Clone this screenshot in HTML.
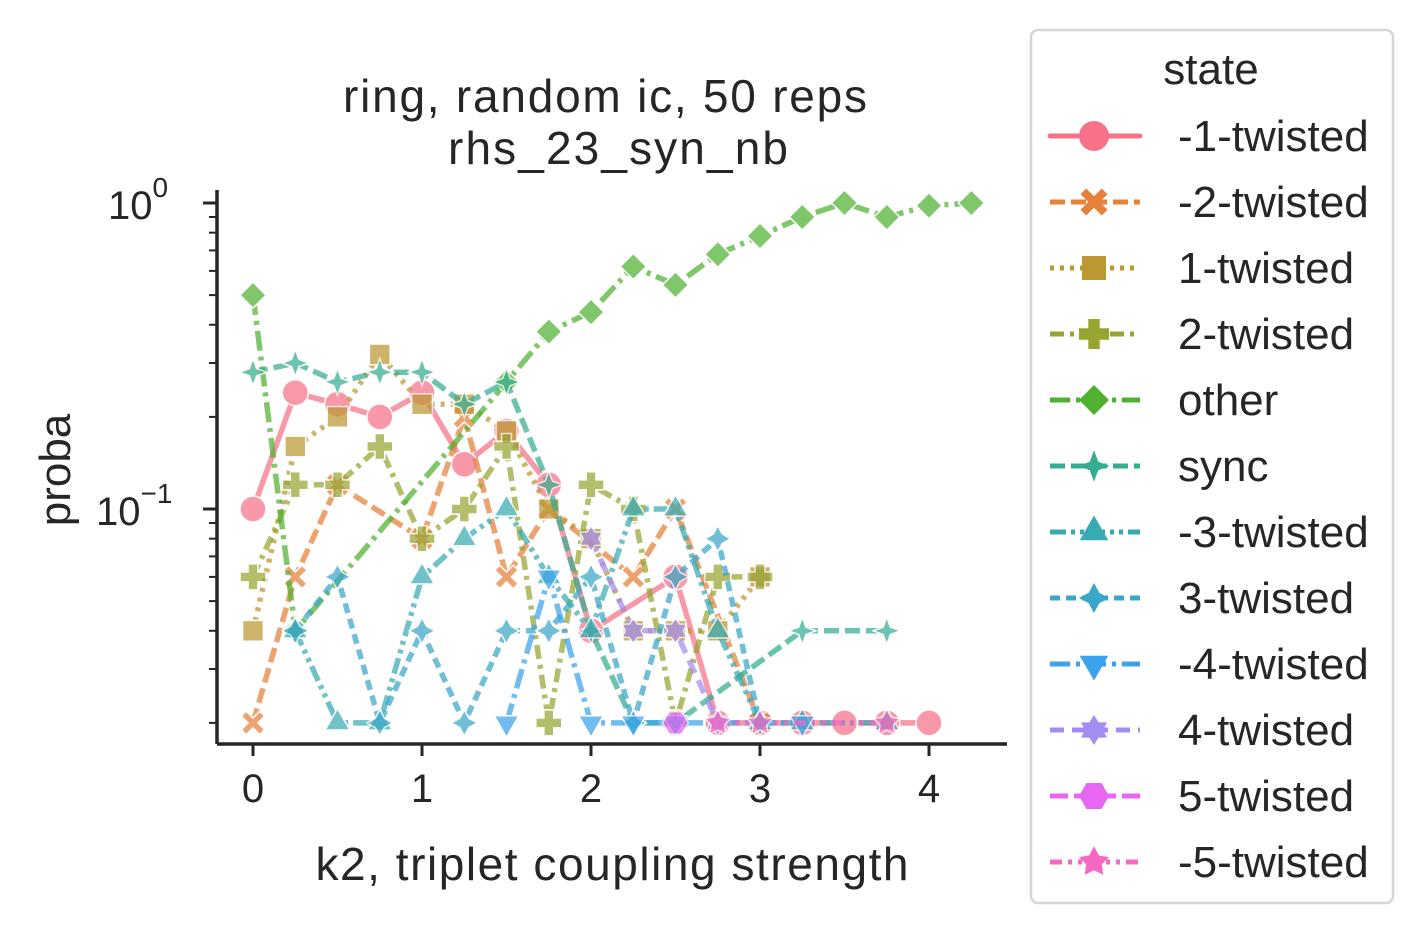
<!DOCTYPE html>
<html><head><meta charset="utf-8"><style>
body{margin:0;background:#fff;}
svg{display:block;font-family:"Liberation Sans",Arial,sans-serif;}
</style></head><body>
<svg id="chart" width="1423" height="934" viewBox="0 0 1423 934">
<text x="605" y="112" font-size="46" text-anchor="middle" fill="#262626" textLength="524">ring, random ic, 50 reps</text>
<text x="618" y="164" font-size="46" text-anchor="middle" fill="#262626" textLength="340">rhs_23_syn_nb</text>
<text x="612" y="880" font-size="46" text-anchor="middle" fill="#262626" textLength="593">k2, triplet coupling strength</text>
<text transform="translate(70,470) rotate(-90)" font-size="44" text-anchor="middle" fill="#262626">proba</text>
<g id="axes"></g>
<g id="series"></g>
<g id="legend"></g>
</svg>
<script>
const names=["-1-twisted","-2-twisted","1-twisted","2-twisted","other","sync","-3-twisted","3-twisted","-4-twisted","4-twisted","5-twisted","-5-twisted"];
const colors=["#f77189","#e58139","#bb9832","#97a431","#50b131","#34ae91","#37abb4","#3aa6c8","#3ba3ec","#a48cf4","#e866f4","#f668c2"];
const xTicks=[0,1,2,3,4];
const s0x=[0,0.25,0.5,0.75,1,1.25,1.5,1.75,2,2.5,2.75,3,3.25,3.5,3.75,4];
const s0y=[0.10,0.24,0.22,0.20,0.24,0.14,0.18,0.12,0.04,0.06,0.02,0.02,0.02,0.02,0.02,0.02];
const s1x=[0,0.25,0.5,1,1.25,1.5,1.75,2.25,2.5,3];
const s1y=[0.02,0.06,0.12,0.08,0.20,0.06,0.10,0.06,0.10,0.02];
const s2x=[0,0.25,0.5,0.75,1,1.25,1.5,1.75,2,2.25,2.5,2.75,3];
const s2y=[0.04,0.16,0.20,0.32,0.22,0.22,0.18,0.10,0.08,0.04,0.04,0.04,0.06];
const s3x=[0,0.25,0.5,0.75,1,1.25,1.5,1.75,2,2.25,2.5,2.75,3];
const s3y=[0.06,0.12,0.12,0.16,0.08,0.10,0.16,0.02,0.12,0.10,0.02,0.06,0.06];
const s4x=[0,0.25,1.5,1.75,2,2.25,2.5,2.75,3,3.25,3.5,3.75,4,4.25];
const s4y=[0.50,0.04,0.26,0.38,0.44,0.62,0.54,0.68,0.78,0.90,1.00,0.90,0.98,1.00];
const s5x=[0,0.25,0.5,0.75,1,1.25,1.5,1.75,2,2.25,2.5,3.25,3.75];
const s5y=[0.28,0.30,0.26,0.28,0.28,0.22,0.26,0.12,0.04,0.02,0.02,0.04,0.04];
const s6x=[0.25,0.5,0.75,1,1.25,1.5,1.75,2,2.25,2.5,2.75,3,3.25,3.75];
const s6y=[0.04,0.02,0.02,0.06,0.08,0.10,0.06,0.04,0.10,0.10,0.04,0.02,0.02,0.02];
const s7x=[0.25,0.5,0.75,1,1.25,1.5,1.75,2,2.25,2.5,2.75,3];
const s7y=[0.04,0.06,0.02,0.04,0.02,0.04,0.04,0.06,0.02,0.06,0.08,0.02];
const s8x=[1.5,1.75,2,2.25,2.5,3.25];
const s8y=[0.02,0.06,0.02,0.02,0.02,0.02];
const s9x=[2,2.25,2.5,2.75];
const s9y=[0.08,0.04,0.04,0.02];
const s10x=[2.5];
const s10y=[0.02];
const s11x=[2.75,3,3.75];
const s11y=[0.02,0.02,0.02];
const SX=[s0x,s1x,s2x,s3x,s4x,s5x,s6x,s7x,s8x,s9x,s10x,s11x];
const SY=[s0y,s1y,s2y,s3y,s4y,s5y,s6y,s7y,s8y,s9y,s10y,s11y];
const dashes=["","15,6","4,6","14,6,4,6","20,6,4,6","15,6","16,5,4,5,4,5","10,6","20,6,4,6","14,8","18,6","12,6,4,6,4,6"];
const xs=v=>253+v*169;
const ys=v=>203-Math.log10(v)*306;
const NS="http://www.w3.org/2000/svg";
function mk(t,a,p){const e=document.createElementNS(NS,t);for(const k in a)e.setAttribute(k,a[k]);p.appendChild(e);return e;}
function star(n,ro,ri){let d="";for(let i=0;i<2*n;i++){const r=i%2?ri:ro;const a=-Math.PI/2+i*Math.PI/n;d+=(i?"L":"M")+(r*Math.cos(a)).toFixed(2)+","+(r*Math.sin(a)).toFixed(2);}return d+"Z";}
function poly(n,r,off){let d="";for(let i=0;i<n;i++){const a=off+i*2*Math.PI/n;d+=(i?"L":"M")+(r*Math.cos(a)).toFixed(2)+","+(r*Math.sin(a)).toFixed(2);}return d+"Z";}
function shape(i,s){
 const r=s;
 switch(i){
  case 0:return "M"+(-r)+",0A"+r+","+r+" 0 1,0 "+r+",0A"+r+","+r+" 0 1,0 "+(-r)+",0Z";
  case 1:{const a=r*0.9,b=r*0.38;return `M${-a},${-a+b}L${-a+b},${-a}L0,${-b}L${a-b},${-a}L${a},${-a+b}L${b},0L${a},${a-b}L${a-b},${a}L0,${b}L${-a+b},${a}L${-a},${a-b}L${-b},0Z`;}
  case 2:{const a=r*0.8;return `M${-a},${-a}H${a}V${a}H${-a}Z`;}
  case 3:{const a=r,b=r*0.38;return `M${-b},${-a}H${b}V${-b}H${a}V${b}H${b}V${a}H${-b}V${b}H${-a}V${-b}H${-b}Z`;}
  case 4:return `M0,${-r}L${r},0L0,${r}L${-r},0Z`;
  case 5:return star(4,r*1.05,r*0.4);
  case 6:return poly(3,r*1.1,-Math.PI/2);
  case 7:{const d=star(4,r,r*0.5);return d;}
  case 8:return poly(3,r*1.1,Math.PI/2);
  case 9:return star(6,r,r*0.6);
  case 10:return poly(6,r,0);
  case 11:return star(5,r*1.05,r*0.55);
 }
}
const ax=document.getElementById("axes");
let e=mk("line",{x1:217,y1:190,x2:217,y2:744,stroke:"#262626","stroke-width":3.5},ax);


e=mk("line",{x1:217,y1:744,x2:1007,y2:744,stroke:"#262626","stroke-width":3.5},ax);


xTicks.forEach(t=>{
 const x=xs(t);
 mk("line",{x1:x,y1:744,x2:x,y2:756,stroke:"#262626","stroke-width":3},ax);
 const tx=mk("text",{x:x,y:802,"font-size":40,"text-anchor":"middle",fill:"#262626"},ax);
 tx.textContent=t;
 
 
});
[[1,"0"],[0.1,"−1"]].forEach(([v,ex])=>{
 const y=ys(v);
 mk("line",{x1:203,y1:y,x2:217,y2:y,stroke:"#262626","stroke-width":3},ax);
 const tx=mk("text",{x:(ex==="0"?108:96),y:y+16,"font-size":40,fill:"#262626"},ax);
 tx.innerHTML='10<tspan dy="-22" font-size="28">'+ex+'</tspan>';
 
 
});
for(const base of [0.01,0.1]){for(let k=2;k<=9;k++){const v=base*k;const y=ys(v);if(y<190||y>744)continue;mk("line",{x1:209,y1:y,x2:217,y2:y,stroke:"#262626","stroke-width":2},ax);}}
const sg=document.getElementById("series");
names.forEach((n,i)=>{
 const g=mk("g",{opacity:0.72},sg);
 
 
 const pts=SX[i].map((x,j)=>xs(x).toFixed(1)+","+ys(SY[i][j]).toFixed(1)).join(" ");
 const pl=mk("polyline",{points:pts,fill:"none",stroke:colors[i],"stroke-width":5.5,"stroke-dasharray":dashes[i],"stroke-linejoin":"round"},g);
 
 
 SX[i].forEach((x,j)=>{
  const p=mk("path",{d:shape(i,13),transform:`translate(${xs(x).toFixed(1)},${ys(SY[i][j]).toFixed(1)})`,fill:colors[i],stroke:"#fff","stroke-width":1.5},g);
  
  
 });
});
const lg=document.getElementById("legend");
const box=mk("rect",{x:1031,y:30,width:362,height:873,rx:7,fill:"#fff",stroke:"#d6d6d6","stroke-width":2.5},lg);


const lt=mk("text",{x:1211,y:84,"font-size":44,"text-anchor":"middle",fill:"#262626"},lg);
lt.textContent="state";


names.forEach((n,i)=>{
 const y=136+i*66;
 const g=mk("g",{},lg);
 
 
 mk("line",{x1:1050,y1:y,x2:1140,y2:y,stroke:colors[i],"stroke-width":5,"stroke-dasharray":dashes[i],"stroke-linecap":i===0?"round":"butt"},g);
 mk("path",{d:shape(i,15),transform:`translate(1094,${y})`,fill:colors[i]},g);
 const t=mk("text",{x:1178,y:y+15,"font-size":44,fill:"#262626"},g);
 t.textContent=n;
});
</script>
</body></html>
